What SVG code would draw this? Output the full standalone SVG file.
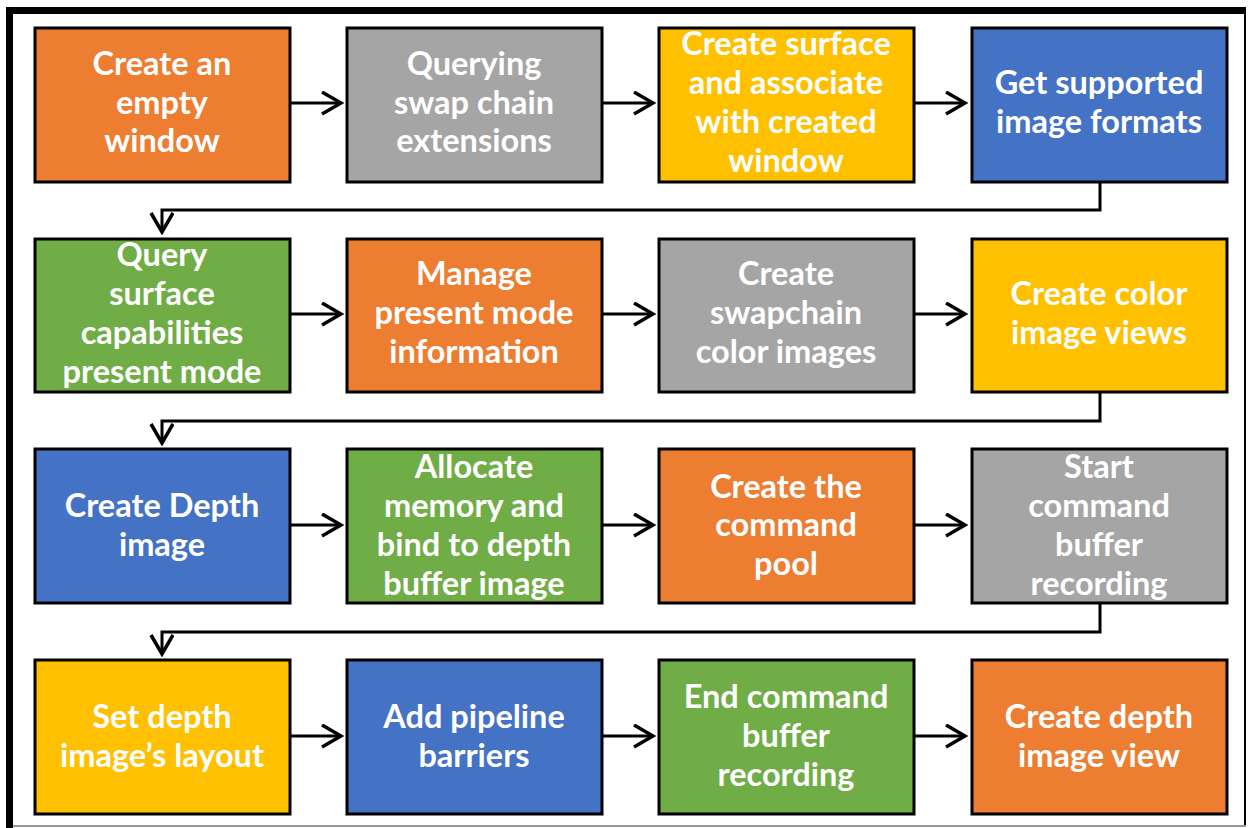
<svg xmlns="http://www.w3.org/2000/svg" width="1249" height="828" viewBox="0 0 1249 828">
<defs>
<style>
.b{stroke:#000;stroke-width:3}
.o{fill:#ED7D31}.g{fill:#A5A5A5}.y{fill:#FFC000}.bl{fill:#4472C4}.gr{fill:#70AD47}
text{font-family:Lato,"Liberation Sans",sans-serif;font-weight:bold;font-size:32.5px;fill:#fff;text-anchor:middle;dominant-baseline:central}
.c{fill:none;stroke:#000;stroke-width:3}
</style>
<marker id="ah" markerUnits="userSpaceOnUse" markerWidth="24" markerHeight="26" refX="21" refY="12" orient="auto" viewBox="0 0 24 26">
<path d="M2,1 L21,12 L2,23" fill="none" stroke="#000" stroke-width="3.5"/>
</marker>
</defs>
<rect width="1249" height="828" fill="#fff"/>
<g id="frame">
<line x1="9.5" y1="7" x2="9.5" y2="828" stroke="#000" stroke-width="7"/>
<line x1="6" y1="10.5" x2="1246" y2="10.5" stroke="#000" stroke-width="7"/>
<line x1="1245" y1="7" x2="1245" y2="826" stroke="#000" stroke-width="2"/>
<line x1="13" y1="826" x2="1246" y2="826" stroke="#999" stroke-width="2"/>
</g>
<g id="connectors" class="c">
<line x1="290" y1="103" x2="341" y2="103" marker-end="url(#ah)"/>
<line x1="602" y1="103" x2="653" y2="103" marker-end="url(#ah)"/>
<line x1="914" y1="103" x2="965" y2="103" marker-end="url(#ah)"/>
<polyline points="1100,182 1100,210 162,210 162,232" marker-end="url(#ah)"/>
<line x1="290" y1="314" x2="341" y2="314" marker-end="url(#ah)"/>
<line x1="602" y1="314" x2="653" y2="314" marker-end="url(#ah)"/>
<line x1="914" y1="314" x2="965" y2="314" marker-end="url(#ah)"/>
<polyline points="1100,391 1100,421 162,421 162,443" marker-end="url(#ah)"/>
<line x1="290" y1="525" x2="341" y2="525" marker-end="url(#ah)"/>
<line x1="602" y1="525" x2="653" y2="525" marker-end="url(#ah)"/>
<line x1="914" y1="525" x2="965" y2="525" marker-end="url(#ah)"/>
<polyline points="1100,603 1100,632 162,632 162,654" marker-end="url(#ah)"/>
<line x1="290" y1="736" x2="341" y2="736" marker-end="url(#ah)"/>
<line x1="602" y1="736" x2="653" y2="736" marker-end="url(#ah)"/>
<line x1="914" y1="736" x2="965" y2="736" marker-end="url(#ah)"/>
</g>
<g id="n1"><rect class="b o" x="35" y="28" width="255" height="154"/><text x="162" y="62">Create an</text><text x="162" y="101">empty</text><text x="162" y="139">window</text></g>
<g id="n2"><rect class="b g" x="347" y="28" width="255" height="154"/><text x="474" y="62">Querying</text><text x="474" y="101">swap chain</text><text x="474" y="139">extensions</text></g>
<g id="n3"><rect class="b y" x="659" y="28" width="255" height="154"/><text x="786" y="42">Create surface</text><text x="786" y="81">and associate</text><text x="786" y="120">with created</text><text x="786" y="159">window</text></g>
<g id="n4"><rect class="b bl" x="972" y="28" width="255" height="154"/><text x="1099" y="81">Get supported</text><text x="1099" y="120">image formats</text></g>
<g id="n5"><rect class="b gr" x="35" y="239" width="255" height="153"/><text x="162" y="253">Query</text><text x="162" y="292">surface</text><text x="162" y="331">capabilities</text><text x="162" y="370">present mode</text></g>
<g id="n6"><rect class="b o" x="347" y="239" width="255" height="153"/><text x="474" y="272">Manage</text><text x="474" y="311">present mode</text><text x="474" y="350">information</text></g>
<g id="n7"><rect class="b g" x="659" y="239" width="255" height="153"/><text x="786" y="272">Create</text><text x="786" y="311">swapchain</text><text x="786" y="350">color images</text></g>
<g id="n8"><rect class="b y" x="972" y="239" width="255" height="153"/><text x="1099" y="292">Create color</text><text x="1099" y="331">image views</text></g>
<g id="n9"><rect class="b bl" x="35" y="449" width="255" height="154"/><text x="162" y="504">Create Depth</text><text x="162" y="543">image</text></g>
<g id="n10"><rect class="b gr" x="347" y="449" width="255" height="154"/><text x="474" y="465">Allocate</text><text x="474" y="504">memory and</text><text x="474" y="543">bind to depth</text><text x="474" y="582">buffer image</text></g>
<g id="n11"><rect class="b o" x="659" y="449" width="255" height="154"/><text x="786" y="485">Create the</text><text x="786" y="523">command</text><text x="786" y="562">pool</text></g>
<g id="n12"><rect class="b g" x="972" y="449" width="255" height="154"/><text x="1099" y="465">Start</text><text x="1099" y="504">command</text><text x="1099" y="543">buffer</text><text x="1099" y="582">recording</text></g>
<g id="n13"><rect class="b y" x="35" y="660" width="255" height="154"/><text x="162" y="715">Set depth</text><text x="162" y="754">image’s layout</text></g>
<g id="n14"><rect class="b bl" x="347" y="660" width="255" height="154"/><text x="474" y="715">Add pipeline</text><text x="474" y="754">barriers</text></g>
<g id="n15"><rect class="b gr" x="659" y="660" width="255" height="154"/><text x="786" y="695">End command</text><text x="786" y="734">buffer</text><text x="786" y="773">recording</text></g>
<g id="n16"><rect class="b o" x="972" y="660" width="255" height="154"/><text x="1099" y="715">Create depth</text><text x="1099" y="754">image view</text></g>
</svg>
